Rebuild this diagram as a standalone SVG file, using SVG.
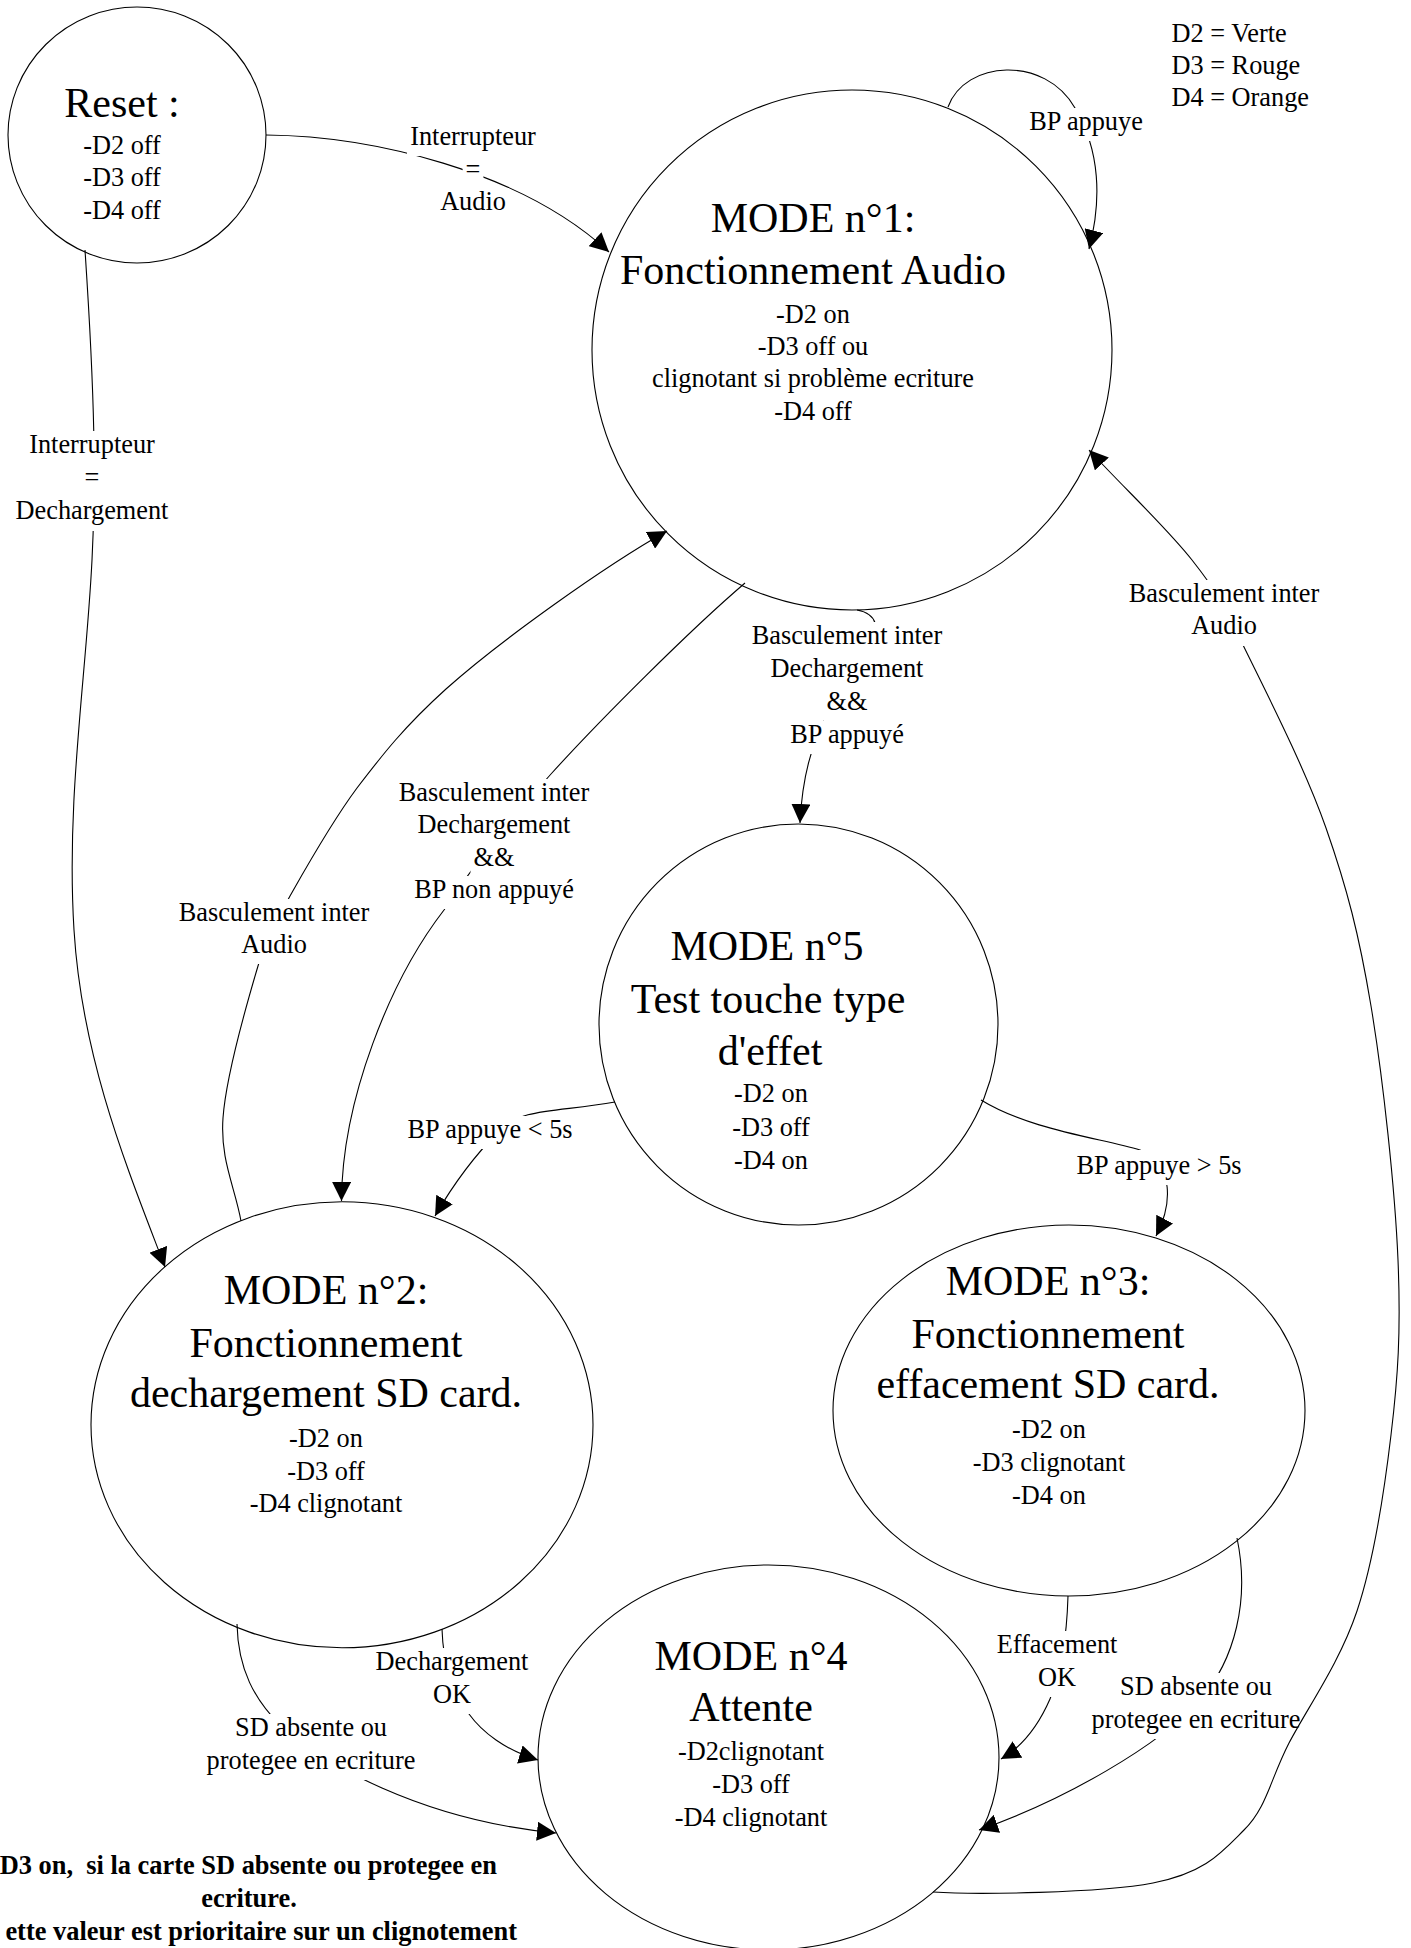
<svg xmlns="http://www.w3.org/2000/svg" width="1411" height="1948" viewBox="0 0 1411 1948">
<style>
.nd{fill:none;stroke:#000;stroke-width:1.1}
.ed{fill:none;stroke:#000;stroke-width:1.1;marker-end:url(#arr)}
text{font-family:"Liberation Serif","Times New Roman",serif;font-size:26.3px;text-anchor:middle;fill:#000}
.lg{font-size:42px}
.lt{text-anchor:start}
.bd{font-weight:bold;font-size:26.4px}
.w{fill:#fff}
.k{fill:#000}
</style>
<defs>
<marker id="arr" markerUnits="userSpaceOnUse" markerWidth="19" markerHeight="19" viewBox="0 0 19 19" refX="19" refY="9.5" orient="auto"><path d="M0,0 L19,9.5 L0,19 z" fill="#000"/></marker>
<mask id="m1" maskUnits="userSpaceOnUse" x="0" y="0" width="1411" height="1948"><rect class="w" width="1411" height="1948"/><rect class="k" x="407" y="123" width="132" height="33"/><rect class="k" x="462.6" y="155.5" width="20.8" height="33"/><rect class="k" x="437" y="188" width="72" height="33"/></mask>
<mask id="m2" maskUnits="userSpaceOnUse" x="0" y="0" width="1411" height="1948"><rect class="w" width="1411" height="1948"/><rect class="k" x="26" y="431" width="132" height="33"/><rect class="k" x="81.6" y="464" width="20.8" height="33"/><rect class="k" x="12" y="497" width="160" height="34"/></mask>
<mask id="m3" maskUnits="userSpaceOnUse" x="0" y="0" width="1411" height="1948"><rect class="w" width="1411" height="1948"/><rect class="k" x="175.7" y="899" width="196.6" height="33"/><rect class="k" x="238" y="931" width="72" height="33"/></mask>
<mask id="m4" maskUnits="userSpaceOnUse" x="0" y="0" width="1411" height="1948"><rect class="w" width="1411" height="1948"/><rect class="k" x="395.7" y="779" width="196.6" height="33"/><rect class="k" x="414.3" y="811" width="159.4" height="33"/><rect class="k" x="470.5" y="844" width="47" height="33"/><rect class="k" x="410.6" y="876" width="166.7" height="33"/></mask>
<mask id="m5" maskUnits="userSpaceOnUse" x="0" y="0" width="1411" height="1948"><rect class="w" width="1411" height="1948"/><rect class="k" x="748.7" y="622" width="196.6" height="34"/><rect class="k" x="767.3" y="655" width="159.4" height="34"/><rect class="k" x="823.5" y="687.5" width="47" height="34"/><rect class="k" x="786.6" y="721" width="120.7" height="33"/></mask>
<mask id="m6" maskUnits="userSpaceOnUse" x="0" y="0" width="1411" height="1948"><rect class="w" width="1411" height="1948"/><rect class="k" x="404" y="1116" width="172" height="33"/></mask>
<mask id="m7" maskUnits="userSpaceOnUse" x="0" y="0" width="1411" height="1948"><rect class="w" width="1411" height="1948"/><rect class="k" x="1073" y="1150" width="172" height="35"/></mask>
<mask id="m8" maskUnits="userSpaceOnUse" x="0" y="0" width="1411" height="1948"><rect class="w" width="1411" height="1948"/><rect class="k" x="1125.7" y="580" width="196.6" height="33"/><rect class="k" x="1188" y="612" width="72" height="34"/></mask>
<mask id="m9" maskUnits="userSpaceOnUse" x="0" y="0" width="1411" height="1948"><rect class="w" width="1411" height="1948"/><rect class="k" x="1025.6" y="108" width="120.7" height="33"/></mask>
<mask id="m10" maskUnits="userSpaceOnUse" x="0" y="0" width="1411" height="1948"><rect class="w" width="1411" height="1948"/><rect class="k" x="229" y="1714" width="164" height="34"/><rect class="k" x="200.6" y="1747" width="220.7" height="33"/></mask>
<mask id="m11" maskUnits="userSpaceOnUse" x="0" y="0" width="1411" height="1948"><rect class="w" width="1411" height="1948"/><rect class="k" x="369.3" y="1648" width="159.4" height="34"/><rect class="k" x="430" y="1681" width="44" height="33"/></mask>
<mask id="m12" maskUnits="userSpaceOnUse" x="0" y="0" width="1411" height="1948"><rect class="w" width="1411" height="1948"/><rect class="k" x="993.4" y="1631" width="127.2" height="34"/><rect class="k" x="1035" y="1664" width="44" height="33"/></mask>
<mask id="m13" maskUnits="userSpaceOnUse" x="0" y="0" width="1411" height="1948"><rect class="w" width="1411" height="1948"/><rect class="k" x="1114" y="1673" width="164" height="34"/><rect class="k" x="1085.6" y="1706" width="220.7" height="33"/></mask>
</defs>
<rect width="1411" height="1948" fill="#fff"/>

<g id="connectors">
<g id="e1"><path class="ed" mask="url(#m1)" d="M266,135 C370,136 520,170 609,252"/>
<text><tspan x="473" y="145">Interrupteur</tspan><tspan x="473" y="177.5">=</tspan><tspan x="473" y="210">Audio</tspan></text></g>
<g id="e2"><path class="ed" mask="url(#m2)" d="M85,250 C95,400 96,480 92,560 C86,680 66,800 74,930 C82,1060 128,1170 165,1267"/>
<text><tspan x="92" y="453">Interrupteur</tspan><tspan x="92" y="486">=</tspan><tspan x="92" y="519">Dechargement</tspan></text></g>
<g id="e3"><path class="ed" mask="url(#m3)" d="M241,1221 C235,1187 220,1160 223,1118 C226,1076 247,1003 258,966 C269,929 274,926 290,896 C307,866 331,823 357,788 C383,754 404,727 446,689 C501,640 605,566 667,531"/>
<text><tspan x="274" y="921">Basculement inter</tspan><tspan x="274" y="953">Audio</tspan></text></g>
<g id="e4"><path class="ed" mask="url(#m4)" d="M745,583 C690,630 600,720 551,774 C510,820 470,870 444,910 C390,980 342,1100 341.5,1201"/>
<text><tspan x="494" y="801">Basculement inter</tspan><tspan x="494" y="833">Dechargement</tspan><tspan x="494" y="866">&amp;&amp;</tspan><tspan x="494" y="898">BP non appuyé</tspan></text></g>
<g id="e5"><path class="ed" mask="url(#m5)" d="M857,610 C878,614 880,628 870,650 L830,710 C812,740 802,780 800,823"/>
<text><tspan x="847" y="644">Basculement inter</tspan><tspan x="847" y="677">Dechargement</tspan><tspan x="847" y="709.5">&amp;&amp;</tspan><tspan x="847" y="743">BP appuyé</tspan></text></g>
<g id="e6"><path class="ed" mask="url(#m6)" d="M615,1102 C560,1112 520,1108 500,1130 C470,1160 450,1190 435,1216"/>
<text x="490" y="1138">BP appuye &lt; 5s</text></g>
<g id="e7"><path class="ed" mask="url(#m7)" d="M981,1100 C1030,1130 1100,1138 1140,1150 C1175,1165 1172,1205 1156,1236"/>
<text x="1159" y="1174">BP appuye &gt; 5s</text></g>
<g id="e8"><path class="ed" mask="url(#m8)" d="M933,1892 C975,1895 1101,1893 1153,1883 C1205,1873 1221,1853 1244,1830 C1267,1807 1270,1780 1289,1743 C1308,1707 1340,1662 1357,1611 C1374,1560 1384,1494 1391,1435 C1398,1377 1401,1332 1398,1260 C1395,1189 1383,1078 1371,1006 C1359,934 1347,888 1326,828 C1305,768 1266,692 1244,647 C1222,602 1218,593 1192,560 C1166,527 1123,487 1089,450"/>
<text><tspan x="1224" y="602">Basculement inter</tspan><tspan x="1224" y="634">Audio</tspan></text></g>
<g id="e9"><path class="ed" mask="url(#m9)" d="M948,107 C965,60 1045,55 1075,108 C1100,150 1102,200 1089,249"/>
<text x="1086" y="130">BP appuye</text></g>
<g id="e10"><path class="ed" mask="url(#m10)" d="M237,1624 C238,1670 255,1700 280,1725 C320,1762 420,1820 556,1833"/>
<text><tspan x="311" y="1736">SD absente ou</tspan><tspan x="311" y="1769">protegee en ecriture</tspan></text></g>
<g id="e11"><path class="ed" mask="url(#m11)" d="M442,1629 C443,1660 450,1690 469,1714 C482,1732 505,1750 538,1760"/>
<text><tspan x="452" y="1670">Dechargement</tspan><tspan x="452" y="1703">OK</tspan></text></g>
<g id="e12"><path class="ed" mask="url(#m12)" d="M1068,1596 C1067,1630 1062,1670 1050,1699 C1040,1722 1025,1745 1001,1759"/>
<text><tspan x="1057" y="1653">Effacement</tspan><tspan x="1057" y="1686">OK</tspan></text></g>
<g id="e13"><path class="ed" mask="url(#m13)" d="M1237,1538 C1250,1600 1235,1660 1200,1700 C1160,1745 1065,1800 979,1830"/>
<text><tspan x="1196" y="1695">SD absente ou</tspan><tspan x="1196" y="1728">protegee en ecriture</tspan></text></g>
</g>

<g id="reset">
<ellipse class="nd" cx="137" cy="135" rx="129" ry="128"/>
<text><tspan class="lg" x="122" y="117">Reset :</tspan><tspan x="122" y="154">-D2 off</tspan><tspan x="122" y="186">-D3 off</tspan><tspan x="122" y="218.5">-D4 off</tspan></text>
</g>
<g id="mode1">
<ellipse class="nd" cx="852" cy="350" rx="260" ry="260"/>
<text><tspan class="lg" x="813" y="232">MODE n°1:</tspan><tspan class="lg" x="813" y="284">Fonctionnement Audio</tspan><tspan x="813" y="323">-D2 on</tspan><tspan x="813" y="355">-D3 off ou</tspan><tspan x="813" y="387">clignotant si problème ecriture</tspan><tspan x="813" y="419.5">-D4 off</tspan></text>
</g>
<g id="mode5">
<ellipse class="nd" cx="798.5" cy="1024.5" rx="199.5" ry="200.5"/>
<text><tspan class="lg" x="767" y="959.5">MODE n°5</tspan><tspan class="lg" x="768" y="1013">Test touche type</tspan><tspan class="lg" x="770" y="1064.5">d'effet</tspan><tspan x="771" y="1102">-D2 on</tspan><tspan x="771" y="1136">-D3 off</tspan><tspan x="771" y="1169">-D4 on</tspan></text>
</g>
<g id="mode2">
<ellipse class="nd" cx="342" cy="1424.8" rx="251" ry="223"/>
<text><tspan class="lg" x="326" y="1304">MODE n°2:</tspan><tspan class="lg" x="326" y="1356.5">Fonctionnement</tspan><tspan class="lg" x="326" y="1407">dechargement SD card.</tspan><tspan x="326" y="1446.5">-D2 on</tspan><tspan x="326" y="1479.5">-D3 off</tspan><tspan x="326" y="1512">-D4 clignotant</tspan></text>
</g>
<g id="mode3">
<ellipse class="nd" cx="1069" cy="1410.5" rx="236" ry="185.5"/>
<text><tspan class="lg" x="1048" y="1295">MODE n°3:</tspan><tspan class="lg" x="1048" y="1348">Fonctionnement</tspan><tspan class="lg" x="1048" y="1398">effacement SD card.</tspan><tspan x="1049" y="1437.5">-D2 on</tspan><tspan x="1049" y="1470.5">-D3 clignotant</tspan><tspan x="1049" y="1503.5">-D4 on</tspan></text>
</g>
<g id="mode4">
<ellipse class="nd" cx="768.5" cy="1757.5" rx="230.5" ry="192.5"/>
<text><tspan class="lg" x="751" y="1670">MODE n°4</tspan><tspan class="lg" x="751" y="1720.5">Attente</tspan><tspan x="751" y="1760">-D2clignotant</tspan><tspan x="751" y="1793">-D3 off</tspan><tspan x="751" y="1826">-D4 clignotant</tspan></text>
</g>
<g id="legend">
<text class="lt"><tspan x="1171.5" y="42">D2 = Verte</tspan><tspan x="1171.5" y="74">D3 = Rouge</tspan><tspan x="1171.5" y="106">D4 = Orange</tspan></text>
</g>
<g id="note">
<text class="bd" xml:space="preserve" style="text-anchor:end" x="497" y="1874">D3 on,  si la carte SD absente ou protegee en</text>
<text class="bd" x="249" y="1907">ecriture.</text>
<text class="bd" style="text-anchor:end" x="517" y="1940">ette valeur est prioritaire sur un clignotement</text>
</g>
</svg>
